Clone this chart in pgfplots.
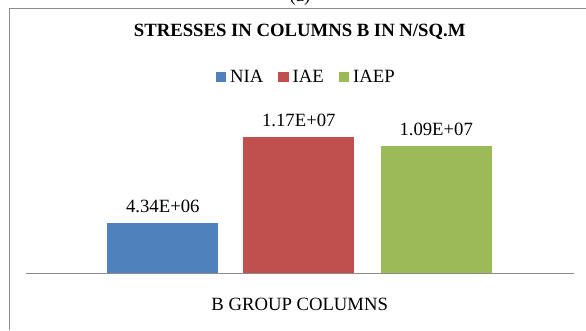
\documentclass[border=0pt]{standalone}
\usepackage{pgfplots}
\pgfplotsset{compat=1.18}
\usepackage{fontspec}
\setmainfont{Liberation Serif}

\definecolor{niaBlue}{HTML}{4F81BD}
\definecolor{iaeRed}{HTML}{C0504D}
\definecolor{iaepGreen}{HTML}{9BBB59}
\definecolor{frameGray}{HTML}{8C8C8C}
\definecolor{baseGray}{HTML}{8A8A8A}

\newcommand{\chartfont}{\fontsize{18.7bp}{22bp}\selectfont}

\begin{document}
\begin{tikzpicture}[x=1bp,y=1bp]
\useasboundingbox (0,0) rectangle (586,330);
% chart frame (left and top edges)
\draw[frameGray, line width=1bp] (9.3,0) -- (9.3,321) -- (590,321);
% panel tag above the frame
\node[anchor=base, inner sep=0pt, font=\chartfont] at (300,328.5) {(a)};

\begin{axis}[
  at={(25.7bp,56.7bp)}, anchor=south west,
  scale only axis,
  width=548bp, height=163.1bp,
  xmin=0, xmax=548,
  ymin=0, ymax=14e6,
  axis x line=bottom, axis y line=none,
  x axis line style={-, draw=baseGray, line width=1.5bp},
  xtick=\empty, ytick=\empty,
  ybar, bar width=111bp, bar shift=0pt,
  point meta=explicit symbolic,
  nodes near coords,
  every node near coord/.append style={anchor=base, inner sep=0pt,
    yshift=10.7bp, font=\chartfont, text=black},
  title={\bfseries STRESSES IN COLUMNS B IN N/SQ.M},
  title style={at={(rel axis cs:0.5,1)}, anchor=base, inner sep=0pt,
    yshift=67.5bp, font=\chartfont},
  xlabel={B GROUP COLUMNS},
  xlabel style={at={(rel axis cs:0.5,0)}, anchor=base, inner sep=0pt,
    yshift=-37.4bp, font=\chartfont},
  legend columns=3,
  legend style={at={(0.3467,1.2054)}, anchor=west, draw=none,
    inner sep=0pt, font=\chartfont,
    nodes={inner sep=0pt},
    /tikz/every odd column/.append style={column sep=4bp},
    /tikz/every even column/.append style={column sep=15bp}},
  legend image code/.code={\fill[#1] (0bp,-5.2bp) rectangle (10.3bp,5.2bp);},
]
\addplot[fill=niaBlue, draw=none] coordinates {(137.1,4.34e6) [4.34E+06]};
\addplot[fill=iaeRed, draw=none] coordinates {(273.1,1.17e7) [1.17E+07]};
\addplot[fill=iaepGreen, draw=none] coordinates {(410.5,1.09e7) [1.09E+07]};
\legend{NIA, IAE, IAEP}
\end{axis}
\end{tikzpicture}
\end{document}
